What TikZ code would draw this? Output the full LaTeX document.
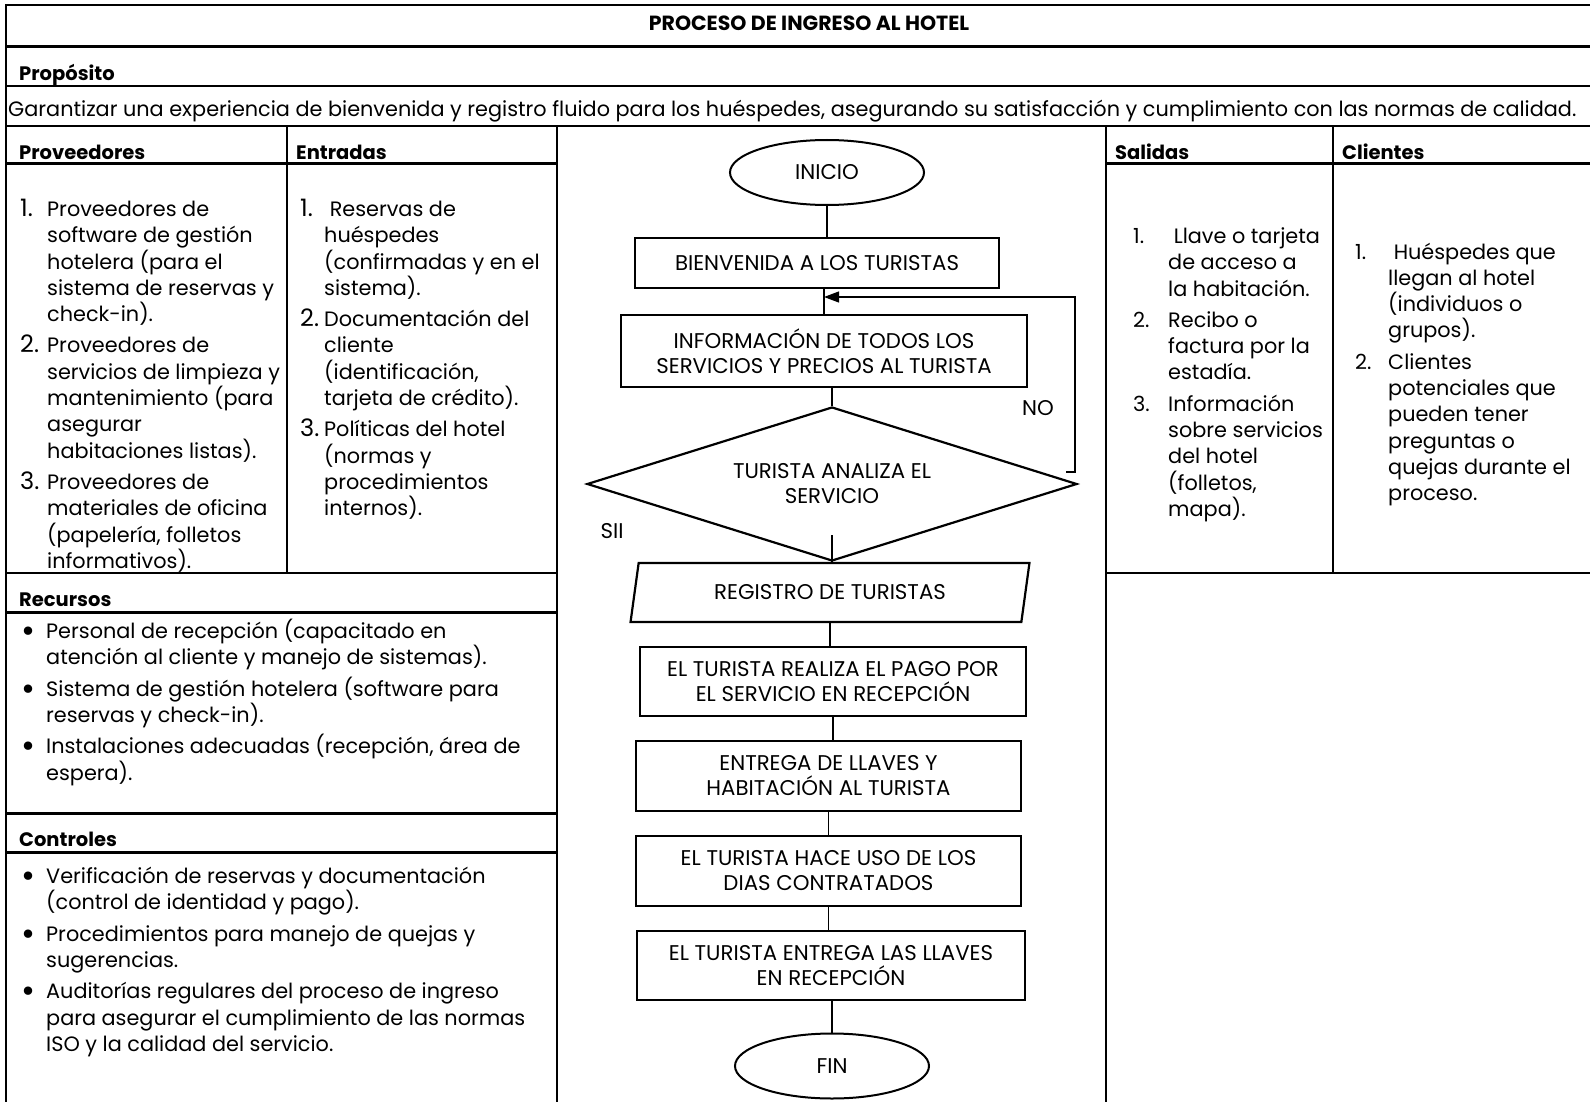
\documentclass[tikz,border=0pt]{standalone}
\usepackage{fontspec}
\usepackage{array}
\setmainfont{Poppins}
\usetikzlibrary{shapes.geometric,arrows.meta}

\newcommand{\bodyfont}{\fontsize{20.8}{26.3}\selectfont}
\newcommand{\chartfont}{\fontsize{21.3}{25}\selectfont}
\newcommand{\headfont}{\fontsize{19.5}{24}\selectfont\bfseries}
\newsavebox{\cellbox}
\newcommand{\itemcols}[2]{\begin{tabular}[t]{@{}p{#1}@{}>{\begin{lrbox}{\cellbox}}l<{\end{lrbox}\smash{\usebox{\cellbox}}}@{}}#2\end{tabular}}
\newcommand{\nm}[1]{{\fontsize{24}{26}\selectfont #1}}
\newcommand{\bul}{{\fontsize{34}{26}\selectfont\raisebox{-4pt}{\textbullet}}}

\begin{document}
\begin{tikzpicture}[x=1pt, y=-1pt,
	tabline/.style={line width=2.6pt},
	hdr/.style={font=\headfont, inner sep=0pt, anchor=base west},
	lst/.style={font=\bodyfont, inner sep=0pt, anchor=base west},
	proc/.style={draw, line width=2.3pt, font=\chartfont, align=center, inner sep=0pt},
	term/.style={draw, ellipse, line width=2pt, font=\chartfont, minimum width=194pt, minimum height=65pt, inner sep=0pt},
	link/.style={line width=1.2pt}]
	\useasboundingbox (0, 0) rectangle (1590, 1102);

	% table
	\draw[tabline] (6, 1102) -- (6, 5) -- (1590, 5);
	\draw[tabline] (6, 46.5) -- (1590, 46.5);
	\draw[tabline] (6, 86) -- (1590, 86);
	\draw[tabline] (6, 126) -- (1590, 126);
	\draw[tabline] (6, 163.5) -- (557, 163.5);
	\draw[tabline] (1106, 163.5) -- (1590, 163.5);
	\draw[tabline] (287, 126) -- (287, 573);
	\draw[tabline] (557, 126) -- (557, 1102);
	\draw[tabline] (1106, 126) -- (1106, 1102);
	\draw[tabline] (1333, 126) -- (1333, 573);
	\draw[tabline] (6, 573) -- (557, 573);
	\draw[tabline] (1106, 573) -- (1590, 573);
	\draw[tabline] (6, 612.7) -- (557, 612.7);
	\draw[tabline] (6, 813.3) -- (557, 813.3);
	\draw[tabline] (6, 852.7) -- (557, 852.7);

	\node[hdr, anchor=base, font=\fontsize{20.5}{24}\selectfont\bfseries] (ttl) at (809, 31) {PROCESO DE INGRESO AL HOTEL};
	\node[hdr] (prop) at (19, 81) {Propósito};
	\node[lst] (goal) at (8, 117) {Garantizar una experiencia de bienvenida y registro fluido para los huéspedes, asegurando su satisfacción y cumplimiento con las normas de calidad.};
	\node[hdr] (hprov) at (19, 160) {Proveedores};
	\node[hdr] (hent) at (296, 160) {Entradas};
	\node[hdr] (hsal) at (1115, 160) {Salidas};
	\node[hdr] (hcli) at (1342, 160) {Clientes};
	\node[hdr] (hrec) at (19, 606.5) {Recursos};
	\node[hdr] (hctl) at (19, 846.5) {Controles};

	\node[lst] (lprov) at (20, 216.5) {\itemcols{27pt}{\nm{1.}&Proveedores de\\&software de gestión\\&hotelera (para el\\&sistema de reservas y\\&check-in).\\[5pt]
		\nm{2.}&Proveedores de\\&servicios de limpieza y\\&mantenimiento (para\\&asegurar\\&habitaciones listas).\\[5pt]
		\nm{3.}&Proveedores de\\&materiales de oficina\\&(papelería, folletos\\&informativos).}};
	\node[lst] (lent) at (300, 216.5) {\itemcols{24pt}{\nm{1.}&\ Reservas de\\&huéspedes\\&(confirmadas y en el\\&sistema).\\[5pt]
		\nm{2.}&Documentación del\\&cliente\\&(identificación,\\&tarjeta de crédito).\\[5pt]
		\nm{3.}&Políticas del hotel\\&(normas y\\&procedimientos\\&internos).}};
	\node[lst] (lsal) at (1133, 243.5) {\itemcols{35pt}{1.&\ Llave o tarjeta\\&de acceso a\\&la habitación.\\[5pt]
		2.&Recibo o\\&factura por la\\&estadía.\\[5pt]
		3.&Información\\&sobre servicios\\&del hotel\\&(folletos,\\&mapa).}};
	\node[lst] (lcli) at (1355, 259) {\itemcols{33pt}{1.&\ Huéspedes que\\&llegan al hotel\\&(individuos o\\&grupos).\\[5pt]
		2.&Clientes\\&potenciales que\\&pueden tener\\&preguntas o\\&quejas durante el\\&proceso.}};
	\node[lst] (lrec) at (21, 638.5) {\itemcols{25pt}{\bul&Personal de recepción (capacitado en\\&atención al cliente y manejo de sistemas).\\[5pt]
		\bul&Sistema de gestión hotelera (software para\\&reservas y check-in).\\[5pt]
		\bul&Instalaciones adecuadas (recepción, área de\\&espera).}};
	\node[lst] (lctl) at (21, 883.5) {\itemcols{25pt}{\bul&Verificación de reservas y documentación\\&(control de identidad y pago).\\[5pt]
		\bul&Procedimientos para manejo de quejas y\\&sugerencias.\\[5pt]
		\bul&Auditorías regulares del proceso de ingreso\\&para asegurar el cumplimiento de las normas\\&ISO y la calidad del servicio.}};

	% flowchart
	\node[term] (inicio) at (827, 172.5) {INICIO};
	\node[proc, minimum width=364pt, minimum height=50pt] (bienv) at (817, 263) {BIENVENIDA A LOS TURISTAS};
	\node[proc, minimum width=406pt, minimum height=72pt] (info) at (824, 351) {INFORMACIÓN DE TODOS LOS\\SERVICIOS Y PRECIOS AL TURISTA};
	\node[draw, diamond, aspect=3.2, line width=2.2pt, font=\chartfont, align=center, minimum width=490pt, minimum height=154pt, inner sep=0pt] (dec) at (832, 484) {TURISTA ANALIZA EL\\SERVICIO};
	\node[draw, trapezium, trapezium left angle=77, trapezium right angle=103, trapezium stretches=true, line width=2.2pt, font=\chartfont, minimum width=400pt, minimum height=59pt] (reg) at (830, 592.5) {REGISTRO DE TURISTAS};
	\node[proc, minimum width=386pt, minimum height=69pt] (pago) at (833, 681.5) {EL TURISTA REALIZA EL PAGO POR\\EL SERVICIO EN RECEPCIÓN};
	\node[proc, minimum width=385pt, minimum height=70pt] (llaves) at (828.5, 776) {ENTREGA DE LLAVES Y\\HABITACIÓN AL TURISTA};
	\node[proc, minimum width=385pt, minimum height=70pt] (uso) at (828.5, 871) {EL TURISTA HACE USO DE LOS\\DIAS CONTRATADOS};
	\node[proc, minimum width=388pt, minimum height=69pt] (devol) at (831, 965.5) {EL TURISTA ENTREGA LAS LLAVES\\EN RECEPCIÓN};
	\node[term] (fin) at (832, 1066) {FIN};
	\node[font=\chartfont, inner sep=0pt] (no) at (1038, 408) {NO};
	\node[font=\chartfont, inner sep=0pt] (sii) at (612, 531) {SII};

	\draw[link] (inicio.south) -- (inicio.south |- bienv.north);
	\draw[link] (info.north) -- (info.north |- bienv.south);
	\draw[link] (dec.north) -- (dec.north |- info.south);
	\draw[link] ([yshift=27pt]dec.south) -- (dec.south |- reg.north);
	\draw[link] (reg.south) -- (reg.south |- pago.north);
	\draw[link] (pago.south) -- (pago.south |- llaves.north);
	\draw[link] (llaves.south) -- (llaves.south |- uso.north);
	\draw[link] (uso.south) -- (uso.south |- devol.north);
	\draw[link] (fin.north) -- (fin.north |- devol.south);

	\coordinate (noout) at (1066, 472);
	\coordinate (back) at (824, 297);
	\draw[link, -{Triangle[length=15pt, width=11pt]}] (noout) -- ++(9, 0) |- (back);
\end{tikzpicture}
\end{document}
